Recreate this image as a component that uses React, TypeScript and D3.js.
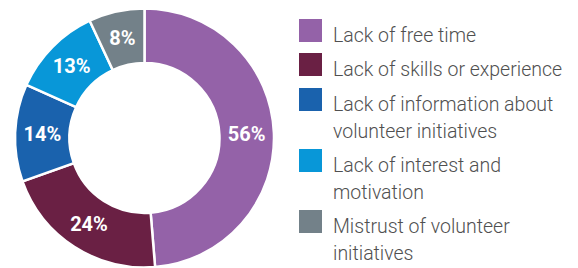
import { arc, pie, select } from "d3";
import type { PieArcDatum } from "d3";
import { useEffect, useRef } from "react";

const categories = [
  ["Lack of free time"],
  ["Lack of skills or experience"],
  ["Lack of information about", "volunteer initiatives"],
  ["Lack of interest and", "motivation"],
  ["Mistrust of volunteer", "initiatives"],
];
const values = [56, 24, 14, 13, 8];
const colors = ["#9462a8", "#6a2044", "#1a62ad", "#0897d8", "#738189"];

const WIDTH = 578;
const HEIGHT = 268;

const App = () => {
  const ref = useRef<SVGSVGElement>(null);

  useEffect(() => {
    if (!ref.current) return;
    const svg = select(ref.current);
    svg.selectAll("*").remove();

    const cx = 144.5;
    const cy = 138;
    const outer = 129.5;
    const inner = 75;

    const pieGen = pie<number>().sort(null).value((d) => d);
    const arcs = pieGen(values);
    const arcGen = arc<PieArcDatum<number>>().innerRadius(inner).outerRadius(outer);
    const labelArc = arc<PieArcDatum<number>>()
      .innerRadius((inner + outer) / 2)
      .outerRadius((inner + outer) / 2);

    const g = svg.append("g").attr("transform", `translate(${cx},${cy})`);

    g.selectAll(".slice")
      .data(arcs)
      .join("path")
      .classed("slice", true)
      .attr("d", arcGen)
      .attr("fill", (_, i) => colors[i])
      .attr("stroke", "#fff")
      .attr("stroke-width", 2.5);

    g.selectAll(".lbl")
      .data(arcs)
      .join("text")
      .classed("lbl", true)
      .attr("transform", (d) => `translate(${labelArc.centroid(d)})`)
      .attr("text-anchor", "middle")
      .attr("dy", "0.36em")
      .attr("fill", "#fff")
      .attr("font-family", "Roboto, sans-serif")
      .attr("font-weight", 700)
      .attr("font-size", 20)
      .text((d) => `${d.data}%`);

    // legend
    const legendTops = [19, 53, 88, 149, 210];
    const lg = svg.append("g");
    categories.forEach((lines, i) => {
      lg.append("rect")
        .attr("x", 299)
        .attr("y", legendTops[i])
        .attr("width", 23)
        .attr("height", 23)
        .attr("fill", colors[i]);
      const t = lg
        .append("text")
        .attr("x", 333)
        .attr("y", legendTops[i] + 23)
        .attr("fill", "#505050")
        .attr("font-family", "Roboto, sans-serif")
        .attr("font-weight", 300)
        .attr("font-size", 19.5);
      lines.forEach((line, j) => {
        t.append("tspan")
          .attr("x", 333)
          .attr("dy", j === 0 ? 0 : 27)
          .text(line);
      });
    });
  }, []);

  return (
    <svg
      ref={ref}
      width={WIDTH}
      height={HEIGHT}
      style={{ position: "absolute", left: 0, top: 0, background: "#fff" }}
    />
  );
};

export default App;
